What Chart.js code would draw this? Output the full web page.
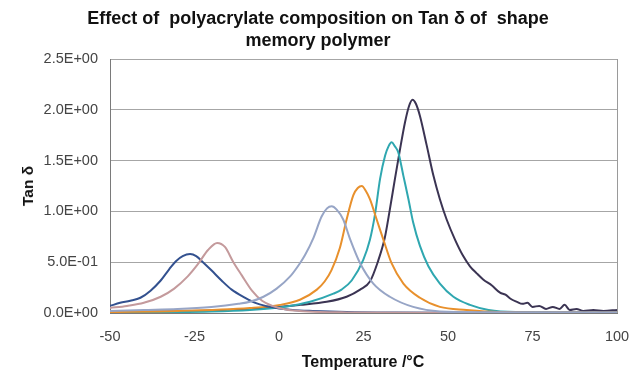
<!DOCTYPE html>
<html lang="en">
<head>
  <meta charset="UTF-8" />
  <title>Tan delta vs temperature</title>
  <style>
    body {
      margin: 0;
      background: #ffffff;
      font-family: Arial, "Liberation Sans", sans-serif;
    }
    .wrap {
      position: relative;
      width: 640px;
      height: 385px;
    }
    .title {
      position: absolute;
      left: 0;
      top: 7px;
      width: 636px;
      text-align: center;
      font-weight: bold;
      font-size: 18px;
      line-height: 22px;
      color: #111;
      white-space: pre;
    }
    .xtitle {
      position: absolute;
      left: 263px;
      width: 200px;
      top: 353px;
      text-align: center;
      font-weight: bold;
      font-size: 16px;
      line-height: 18px;
      color: #111;
    }
    .ytitle {
      position: absolute;
      left: 28px;
      top: 186px;
      transform: translate(-50%, -50%) rotate(-90deg);
      font-weight: bold;
      font-size: 15.5px;
      color: #111;
      white-space: nowrap;
    }
    canvas { position: absolute; left: 0; top: 0; }
  </style>
</head>
<body>
  <div class="wrap">
    <canvas id="tanChart" width="640" height="385"></canvas>
    <div class="title">Effect of  polyacrylate composition on Tan δ of  shape
memory polymer</div>
    <div class="ytitle">Tan δ</div>
    <div class="xtitle">Temperature /°C</div>
  </div>

  <script src="https://cdn.jsdelivr.net/npm/chart.js"></script>
  <script>
    // x axis ticks (°C) and y axis ticks (tan delta)
    const xTicks = [-50, -25, 0, 25, 50, 75, 100];
    const yTicks = [0, 0.5, 1.0, 1.5, 2.0, 2.5];

    // series: temperature / tan delta
    const blueT = [-50, -47, -44, -41, -38, -35, -32.5, -30.5, -28.5, -26.3, -24.5, -22.5, -20, -17, -14, -10, -7, -4, 0, 4, 10, 20, 35, 60, 100];
    const blueY = [0.07, 0.1, 0.12, 0.15, 0.22, 0.32, 0.43, 0.51, 0.56, 0.58, 0.56, 0.5, 0.42, 0.32, 0.23, 0.15, 0.1, 0.07, 0.045, 0.03, 0.02, 0.01, 0.005, 0.003, 0.002];

    const pinkT = [-50, -45, -40, -35, -31, -27, -24, -21, -18.3, -16, -13.5, -11, -8, -5, -2, 2, 6, 12, 20, 40, 100];
    const pinkY = [0.05, 0.07, 0.1, 0.16, 0.24, 0.36, 0.48, 0.62, 0.69, 0.65, 0.5, 0.37, 0.22, 0.12, 0.07, 0.035, 0.02, 0.01, 0.006, 0.003, 0.002];

    const greyT = [-50, -40, -30, -20, -12, -8.6, -4.6, -0.7, 3.3, 6.2, 7.7, 10.2, 12.6, 14.2, 15.6, 17, 19, 21, 24, 27.9, 32.8, 39.7, 47.6, 60, 100];
    const greyY = [0.02, 0.03, 0.04, 0.06, 0.09, 0.11, 0.16, 0.24, 0.36, 0.49, 0.57, 0.74, 0.95, 1.03, 1.05, 1.02, 0.92, 0.73, 0.49, 0.29, 0.16, 0.06, 0.015, 0.008, 0.004];

    const orangeT = [-50, -30, -8.6, 0.3, 6.2, 11.2, 13.5, 15.5, 18, 20, 22, 23.3, 24.5, 25.7, 26.9, 28.9, 30.9, 33.3, 36.8, 41.7, 47.6, 55.5, 65, 100];
    const orangeY = [0.01, 0.02, 0.05, 0.08, 0.13, 0.23, 0.31, 0.42, 0.64, 0.92, 1.16, 1.23, 1.25, 1.2, 1.12, 0.92, 0.72, 0.49, 0.29, 0.15, 0.06, 0.03, 0.01, 0.004];

    const tealT = [-50, -20, -8.6, 1.3, 9.2, 16.1, 18.5, 21.5, 24.9, 26.9, 28.4, 29.9, 31.4, 32.4, 33.3, 34.3, 35.3, 36.8, 38.3, 39.7, 41.7, 44.2, 47.6, 51.6, 56.5, 62, 70, 100];
    const tealY = [0.005, 0.015, 0.03, 0.06, 0.11, 0.19, 0.23, 0.32, 0.52, 0.72, 0.97, 1.32, 1.55, 1.64, 1.68, 1.64, 1.58, 1.35, 1.12, 0.89, 0.66, 0.46, 0.29, 0.16, 0.08, 0.03, 0.01, 0.005];

    const purpleT = [-50, -20, -3.6, 6.2, 14.1, 20, 24, 26.9, 29.2, 31.3, 32.8, 34.3, 35.8, 37.3, 38.5, 39.5, 40.5, 41.7, 43.7, 45.7, 47.6, 49.6, 52.1, 54.5, 56.5, 58.5, 60.4, 63, 65.4, 67, 68.5, 70.4, 72, 73.5, 75, 77, 79, 81, 83, 84.5, 86, 88, 90, 93, 96, 100];
    const purpleY = [0.01, 0.025, 0.05, 0.08, 0.11, 0.16, 0.23, 0.31, 0.5, 0.74, 1.02, 1.32, 1.61, 1.88, 2.04, 2.1, 2.06, 1.94, 1.65, 1.35, 1.12, 0.92, 0.72, 0.56, 0.46, 0.39, 0.33, 0.27, 0.2, 0.18, 0.14, 0.11, 0.09, 0.1, 0.06, 0.07, 0.04, 0.06, 0.04, 0.08, 0.03, 0.04, 0.02, 0.03, 0.02, 0.03];

    function pts(xs, ys) {
      return xs.map((x, i) => ({ x: x, y: ys[i] }));
    }

    function sci(v) {
      if (v === 0) return "0.0E+00";
      let e = Math.floor(Math.log10(Math.abs(v)) + 1e-9);
      let m = v / Math.pow(10, e);
      let sign = e < 0 ? "-" : "+";
      let ae = Math.abs(e);
      return m.toFixed(1) + "E" + sign + (ae < 10 ? "0" + ae : ae);
    }

    function line(data, color) {
      return {
        data: data,
        borderColor: color,
        borderWidth: 2,
        pointRadius: 0,
        fill: false,
        cubicInterpolationMode: "monotone"
      };
    }

    const ctx = document.getElementById("tanChart").getContext("2d");
    new Chart(ctx, {
      type: "line",
      data: {
        datasets: [
          line(pts(greyT, greyY), "#97a5c6"),
          line(pts(pinkT, pinkY), "#c49a9c"),
          line(pts(blueT, blueY), "#33518f"),
          line(pts(orangeT, orangeY), "#e8902c"),
          line(pts(tealT, tealY), "#2fa7b0"),
          line(pts(purpleT, purpleY), "#3b3453")
        ]
      },
      options: {
        responsive: false,
        animation: false,
        layout: { padding: { left: 0, right: 23, top: 59, bottom: 0 } },
        plugins: {
          legend: { display: false },
          tooltip: { enabled: false }
        },
        scales: {
          x: {
            type: "linear",
            min: -50,
            max: 100,
            afterBuildTicks: s => { s.ticks = xTicks.map(v => ({ value: v })); },
            afterFit: s => {
              s.height = 72;
              s.paddingLeft = 0;
              s.paddingRight = 0;
            },
            ticks: {
              padding: 15,
              color: "#444",
              font: { family: "Arial", size: 14.5 }
            },
            grid: {
              drawTicks: false,
              color: c => (c.tick && c.tick.value === 100 ? "#9a9a9a" : "rgba(0,0,0,0)")
            },
            border: { color: "#7a7a7a", width: 1 }
          },
          y: {
            min: 0,
            max: 2.5,
            afterBuildTicks: s => { s.ticks = yTicks.map(v => ({ value: v })); },
            afterFit: s => { s.width = 110; },
            ticks: {
              padding: 12,
              color: "#444",
              font: { family: "Arial", size: 14.5 },
              callback: v => sci(v)
            },
            grid: {
              drawTicks: false,
              color: "#a6a6a6"
            },
            border: { color: "#7a7a7a", width: 1 }
          }
        }
      }
    });
  </script>
</body>
</html>
